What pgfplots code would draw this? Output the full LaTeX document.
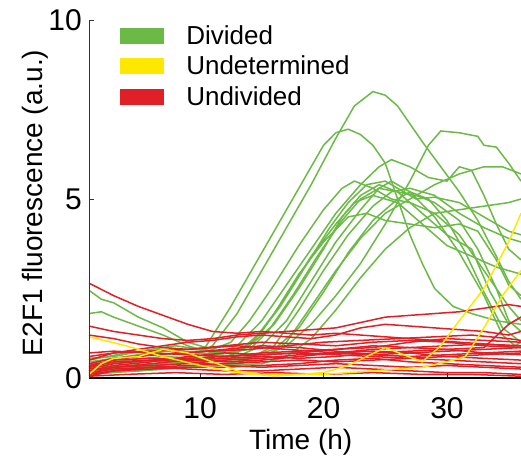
\documentclass[border=0pt]{standalone}
\usepackage{fontspec}
\setmainfont{Liberation Sans}
\usepackage{pgfplots}
\pgfplotsset{compat=1.18}

\definecolor{gdiv}{RGB}{108,186,70}
\definecolor{yund}{RGB}{255,232,0}
\definecolor{rund}{RGB}{224,32,38}

\pgfplotsset{
  gl/.style={gdiv, line width=1.5pt, forget plot},
  yl/.style={yund, line width=1.5pt, forget plot},
  rl/.style={rund, line width=1.5pt, forget plot},
}

\begin{document}
\begin{tikzpicture}
\begin{axis}[
  scale only axis,
  width=432pt, height=358pt,
  xmin=1, xmax=36, ymin=0, ymax=10,
  axis lines=left,
  axis line style={-},
  x axis line style={line width=1.6pt},
  y axis line style={line width=0.8pt, black!80},
  axis on top,
  xtick={10,20,30}, ytick={0,5,10},
  tick align=inside,
  major tick length=5pt,
  tick style={black!80, line width=0.8pt},
  /pgf/number format/assume math mode=true,
  ticklabel style={font=\fontsize{30}{36}\selectfont, inner sep=0pt},
  xticklabel style={anchor=north, yshift=-19pt},
  yticklabel style={anchor=east, xshift=-7pt},
  xlabel={Time (h)},
  ylabel={E2F1 fluorescence (a.u.)},
  label style={font=\fontsize{28}{34}\selectfont},
  xlabel style={at={(axis description cs:0.49,0)}, anchor=base, yshift=-71pt},
  ylabel style={at={(axis description cs:0,0.489)}, anchor=base, yshift=46pt},
  legend cell align=left,
  legend style={at={(axis description cs:0.072,0.99)}, anchor=north west,
    draw=none, fill=none, inner sep=0pt,
    font=\fontsize{26}{30}\selectfont,
    row sep=6pt,
    /tikz/every odd column/.append style={column sep=20pt}},
]
% legend entries
\addlegendimage{legend image code/.code={\path[fill=gdiv, draw=none] (0pt,-8pt) rectangle (44pt,8pt);}}
\addlegendentry{Divided}
\addlegendimage{legend image code/.code={\path[fill=yund, draw=none] (0pt,-8pt) rectangle (44pt,8pt);}}
\addlegendentry{Undetermined}
\addlegendimage{legend image code/.code={\path[fill=rund, draw=none] (0pt,-8pt) rectangle (44pt,8pt);}}
\addlegendentry{Undivided}

% divided cells
\addplot[gl] coordinates {(1,0.3)(4,0.35)(7,0.4)(9,0.5)(11,0.9)(13,1.8)(15,3.0)(17,4.2)(19,5.4)(21,6.7)(22.5,7.6)(24,8.0)(25,7.9)(26,7.6)(27,7.1)(28,6.6)(29.5,5.9)(31,5.2)(32.5,4.4)(34,3.4)(35,2.7)(36,2.2)};
\addplot[gl] coordinates {(1,0.2)(4,0.3)(7,0.35)(9,0.5)(10.5,0.9)(12.5,2.0)(14.5,3.2)(16.5,4.4)(18.5,5.6)(20,6.5)(21,6.85)(22,6.95)(23,6.8)(24,6.5)(25,6.0)(26,5.0)(27,4.0)(28,3.2)(29,2.5)(30.5,2.0)(32,1.8)(34,1.6)(36,1.5)};
\addplot[gl] coordinates {(1,0.15)(5,0.2)(9,0.3)(12,0.4)(15,0.6)(17,0.9)(19,1.5)(21,2.3)(23,3.2)(25,4.3)(27,5.5)(28.5,6.5)(29.5,6.9)(31,6.85)(32.5,6.75)(33,6.5)(34,6.45)(35,6.0)(36,5.5)};
\addplot[gl] coordinates {(1,0.4)(4,0.45)(8,0.5)(11,0.6)(13,0.9)(15,1.6)(17,2.6)(19,3.6)(21,4.6)(23,5.4)(24.5,5.9)(25.5,6.1)(27,5.9)(28.5,5.6)(30,5.5)(31,5.9)(32,5.8)(33,5.1)(34,4.3)(35,3.6)(36,3.3)};
\addplot[gl] coordinates {(1,2.45)(2,2.2)(3,2.1)(5,1.7)(7,1.4)(9,1.0)(11,0.8)(12.5,1.0)(14,1.6)(16,2.6)(18,3.7)(20,4.7)(21.5,5.3)(22.5,5.5)(24,5.3)(25.5,5.0)(27,4.9)(29,4.6)(31,4.0)(33,3.0)(35,2.0)(36,1.6)};
\addplot[gl] coordinates {(1,1.8)(2,1.85)(3,1.7)(5,1.45)(7,1.2)(9,0.9)(11,0.7)(13,0.7)(14.5,1.1)(16.5,2.0)(18.5,3.1)(20.5,4.2)(22,4.9)(23.5,5.4)(25,5.5)(26,5.3)(27.5,5.0)(29,5.05)(31,4.9)(33,4.5)(35,4.1)(36,4.0)};
\addplot[gl] coordinates {(1,0.55)(3,0.6)(6,0.8)(8,0.9)(10,0.8)(12,0.7)(14,0.8)(15.5,1.3)(17.5,2.3)(19.5,3.4)(21.5,4.4)(23,5.0)(24.5,5.3)(26,5.2)(27.5,5.1)(29,4.9)(31,4.4)(32.5,3.6)(34,2.5)(35,1.6)(36,1.3)};
\addplot[gl] coordinates {(1,0.3)(4,0.5)(7,0.6)(10,0.55)(12,0.5)(14,0.55)(16,0.9)(18,1.9)(20,3.0)(22,4.0)(24,4.8)(25.5,5.2)(27,5.3)(29,5.1)(31,4.6)(33,4.2)(35,3.9)(36,3.8)};
\addplot[gl] coordinates {(1,0.1)(5,0.2)(9,0.3)(13,0.4)(15,0.5)(17,1.0)(19,2.0)(21,3.0)(23,3.9)(25,4.6)(27,5.0)(29,5.4)(31,5.7)(33,5.9)(34.5,5.9)(36,5.7)};
\addplot[gl] coordinates {(1,0.5)(4,0.7)(7,0.8)(10,0.7)(13,0.6)(15,0.9)(17,1.6)(19,2.7)(21,3.8)(23,4.7)(24.5,5.3)(25.5,5.5)(27,5.2)(29,4.5)(31,3.5)(33,2.3)(34.5,1.2)(35.5,0.9)(36,1.0)};
\addplot[gl] coordinates {(1,0.2)(5,0.3)(9,0.45)(12,0.5)(14,0.6)(16,0.8)(18,1.4)(20,2.4)(22,3.5)(24,4.4)(26,5.0)(27,5.2)(28.5,5.0)(30,4.4)(31.5,3.5)(33,2.4)(34.5,1.4)(36,1.0)};
\addplot[gl] coordinates {(1,0.35)(5,0.45)(9,0.5)(12,0.55)(14,0.9)(16,1.8)(18,2.9)(20,3.8)(22,4.5)(23.5,4.6)(25,4.4)(27,4.3)(29,4.2)(31,4.3)(32.5,4.1)(34,3.3)(35,2.6)(36,2.3)};
\addplot[gl] coordinates {(1,0.25)(4,0.3)(8,0.4)(11,0.5)(13,0.7)(15,1.3)(17,2.3)(19,3.4)(21,4.3)(22.5,4.9)(24,5.1)(26,4.9)(28,4.3)(30,3.7)(32,3.4)(34,3.1)(36,2.9)};
\addplot[gl] coordinates {(1,0.15)(4,0.25)(8,0.3)(12,0.35)(15,0.4)(17,0.6)(19,1.1)(21,1.9)(23,2.8)(25,3.6)(27,4.2)(29,4.6)(31,4.7)(33,4.8)(35,4.9)(36,5.0)};
\addplot[gl] coordinates {(1,0.45)(3,0.55)(6,0.7)(9,0.8)(12,0.75)(14,0.9)(16,1.5)(18,2.5)(20,3.6)(21.5,4.5)(23,5.1)(24.5,5.4)(26,5.2)(28,4.6)(30,4.0)(32,3.6)(33.5,2.4)(35,1.5)(36,1.7)};

% undivided cells
\addplot[rl] coordinates {(1,2.65)(3,2.3)(5,2.0)(7,1.75)(9,1.5)(11,1.3)(13,1.25)(15,1.3)(17,1.25)(19,1.2)(21,1.25)(23,1.2)(25,1.15)(27,1.1)(29,1.05)(31,1.0)(33,0.95)(35,0.9)(36,0.9)};
\addplot[rl] coordinates {(1,1.45)(3,1.3)(5,1.2)(7,1.1)(9,1.05)(11,1.1)(13,1.2)(15,1.25)(17,1.3)(19,1.35)(21,1.4)(23,1.55)(25,1.7)(27,1.75)(29,1.8)(31,1.85)(33,1.95)(35,2.05)(36,2.0)};
\addplot[rl] coordinates {(1,0.5)(3,0.7)(5,0.8)(7,0.9)(9,1.0)(11,1.05)(13,1.15)(15,1.2)(17,1.15)(19,1.1)(21,1.2)(23,1.4)(25,1.5)(27,1.45)(29,1.4)(31,1.35)(33,1.3)(35,1.2)(36,1.3)};
\addplot[rl] coordinates {(1,0.3)(3,0.5)(5,0.6)(8,0.7)(11,0.75)(14,0.8)(17,0.9)(20,1.0)(23,1.05)(26,1.1)(29,1.15)(32,1.2)(35,1.1)(36,1.05)};
\addplot[rl] coordinates {(1,0.2)(3,0.35)(6,0.45)(9,0.6)(12,0.7)(15,0.65)(18,0.7)(21,0.8)(24,0.9)(27,0.85)(30,0.9)(33,0.95)(36,0.9)};
\addplot[rl] coordinates {(1,0.1)(3,0.3)(6,0.4)(9,0.5)(12,0.55)(15,0.6)(18,0.55)(21,0.6)(24,0.7)(27,0.75)(30,0.8)(33,0.7)(36,0.65)};
\addplot[rl] coordinates {(1,0.35)(3,0.5)(6,0.55)(9,0.5)(12,0.45)(15,0.5)(18,0.6)(21,0.7)(24,0.75)(27,0.7)(30,0.6)(33,0.55)(36,0.5)};
\addplot[rl] coordinates {(1,0.05)(3,0.2)(6,0.3)(9,0.35)(12,0.4)(15,0.45)(18,0.5)(21,0.45)(24,0.5)(27,0.55)(30,0.5)(33,0.45)(36,0.4)};
\addplot[rl] coordinates {(1,0.25)(3,0.4)(6,0.5)(9,0.45)(12,0.35)(15,0.3)(18,0.35)(21,0.4)(24,0.35)(27,0.3)(30,0.35)(33,0.3)(36,0.25)};
\addplot[rl] coordinates {(1,0.15)(3,0.25)(6,0.3)(9,0.25)(12,0.2)(15,0.2)(18,0.25)(21,0.3)(24,0.25)(27,0.2)(30,0.15)(33,0.15)(36,0.1)};
\addplot[rl] coordinates {(1,0.4)(3,0.55)(6,0.65)(9,0.7)(12,0.8)(15,0.9)(18,0.85)(21,0.75)(24,0.65)(27,0.6)(30,0.65)(33,0.7)(36,0.75)};
\addplot[rl] coordinates {(1,0.6)(3,0.7)(6,0.75)(9,0.8)(12,0.9)(15,1.0)(18,0.95)(21,0.9)(24,1.0)(27,1.05)(30,1.0)(33,0.9)(36,0.85)};
\addplot[rl] coordinates {(1,0.05)(4,0.1)(8,0.15)(12,0.1)(16,0.15)(20,0.1)(24,0.15)(28,0.1)(32,0.1)(36,0.05)};
\addplot[rl] coordinates {(1,0.2)(3,0.3)(6,0.35)(9,0.4)(12,0.5)(15,0.55)(18,0.65)(21,0.7)(24,0.8)(27,0.85)(30,0.8)(33,0.85)(35,1.5)(36,1.7)};
\addplot[rl] coordinates {(1,0.3)(3,0.45)(6,0.5)(9,0.55)(12,0.6)(15,0.7)(18,0.75)(21,0.8)(24,0.85)(27,1.0)(30,1.1)(33,1.05)(36,1.0)};
\addplot[rl] coordinates {(1,0.1)(3,0.2)(6,0.25)(9,0.3)(12,0.3)(15,0.35)(18,0.4)(21,0.5)(24,0.55)(27,0.45)(30,0.4)(33,0.35)(36,0.3)};
\addplot[rl] coordinates {(1,1.2)(3,1.1)(5,0.95)(7,0.85)(9,0.8)(11,0.85)(13,0.9)(15,0.85)(17,0.8)(19,0.75)(21,0.7)(24,0.65)(27,0.7)(30,0.75)(33,0.8)(36,0.85)};
\addplot[rl] coordinates {(1,0.7)(3,0.75)(6,0.7)(9,0.65)(12,0.6)(15,0.65)(18,0.7)(21,0.65)(24,0.6)(27,0.55)(30,0.6)(33,0.65)(36,0.7)};

% undetermined cells
\addplot[yl] coordinates {(1,1.15)(4,0.9)(7,0.6)(10,0.35)(13,0.15)(16,0.05)(20,0.15)(22,0.35)(25,0.85)(26.5,0.65)(28,0.45)(29.5,0.9)(31,1.6)(33,2.5)(35,3.8)(36,4.6)};
\addplot[yl] coordinates {(1,0.1)(2,0.4)(3,0.55)(5,0.6)(7,0.8)(9,0.7)(11,0.45)(13,0.2)(15,0.1)(20,0.1)(24,0.2)(28,0.3)(30,0.45)(31.5,0.6)(33,1.4)(34.5,2.3)(36,3.0)};
\end{axis}
\pgfresetboundingbox
\useasboundingbox (-89pt,-80pt) rectangle (432pt,378pt);
\end{tikzpicture}
\end{document}
